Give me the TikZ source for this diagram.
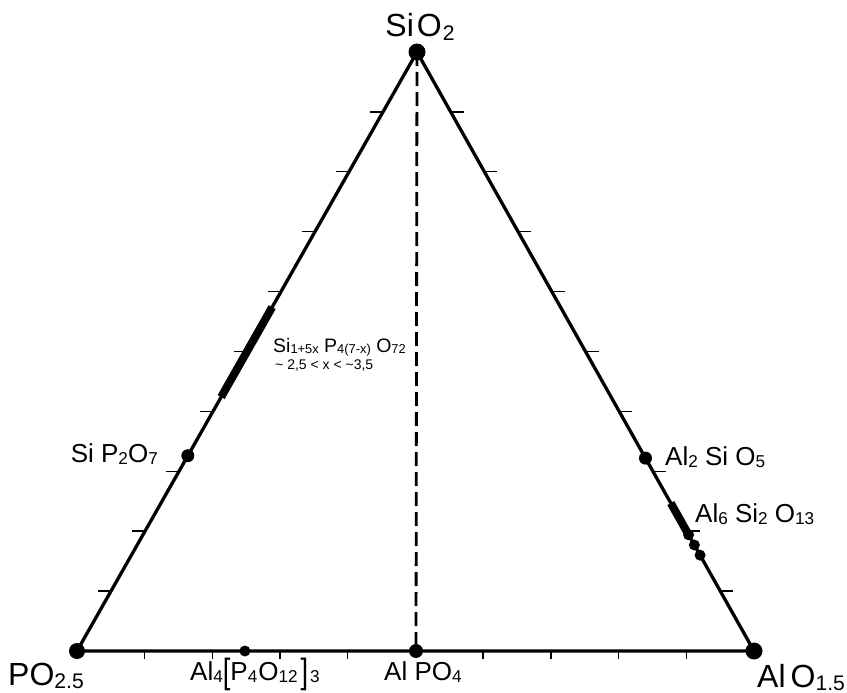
\documentclass[tikz,border=0pt]{standalone}
\usepackage{fontspec}
\setmainfont{Liberation Sans}
\usetikzlibrary{calc}
\newcommand\sbs[1]{\raisebox{-0.1em}{\scalebox{0.66}{#1}}}
\newcommand\bigbr[1]{\raisebox{-3.5pt}{\scalebox{1.05}[1.35]{#1}}}
\begin{document}
\begin{tikzpicture}[x=1pt,y=-1pt,
  edge/.style={line width=3.3pt,line join=round},
  dashline/.style={line width=2.8pt,dash pattern=on 14pt off 6pt},
  tickmark/.style={line width=1.4pt},
  bar/.style={line width=8pt},
  big/.style={font=\fontsize{32}{36}\selectfont,inner sep=0pt},
  mid/.style={font=\fontsize{26}{30}\selectfont,inner sep=0pt},
  sml/.style={font=\fontsize{19.5}{24}\selectfont,inner sep=0pt},
  tny/.style={font=\fontsize{14}{16}\selectfont,inner sep=0pt}]
\useasboundingbox (0,0) rectangle (847,693);
\coordinate (S) at (417,52);
\coordinate (P) at (77,651);
\coordinate (A) at (754,651);
\coordinate (D) at (416,651);
% edges
\draw[edge] (S) -- (P) -- (A) -- cycle;
\draw[dashline] (S) -- (D);
% ticks
\foreach \k in {1,...,9} {
  \draw[tickmark] ($(S)!\k/10!(P)$) -- ++(-13,0);
  \draw[tickmark] ($(S)!\k/10!(A)$) -- ++(13,0);
}
\foreach \k in {1,2,3,4,6,7,8,9}
  \draw[tickmark] ($(P)!\k/10!(A)$) -- ++(0,8);
% solid-solution ranges
\coordinate (x1) at ($(S)!0.426!(P)$);
\coordinate (x2) at ($(S)!0.576!(P)$);
\draw[bar] (x1) -- (x2);
\coordinate (m1) at ($(S)!0.753!(A)$);
\coordinate (m2) at ($(S)!0.803!(A)$);
\draw[bar] (m1) -- (m2);
% compounds
\coordinate (sp) at ($(S)!0.674!(P)$);
\coordinate (as) at ($(S)!0.678!(A)$);
\coordinate (a4) at ($(P)!0.248!(A)$);
\coordinate (d1) at ($(S)!0.806!(A)$);
\coordinate (d2) at ($(S)!0.823!(A)$);
\coordinate (d3) at ($(S)!0.840!(A)$);
\fill (S) circle (8.5pt);
\fill (P) circle (8pt);
\fill (A) circle (8.5pt);
\fill (D) circle (7pt);
\fill (a4) circle (5.5pt);
\fill (sp) circle (6.5pt);
\fill (as) circle (6.5pt);
\fill (d1) circle (5.5pt);
\fill (d2) circle (5.5pt);
\fill (d3) circle (5.5pt);
% labels
\node[big,anchor=base] (lS) at (420,37) {Si\kern3pt O\kern1pt\sbs{2}};
\node[big,anchor=base west] (lP) at (8,685) {PO\sbs{2.5}};
\node[big,anchor=base west] (lA) at (757,687) {Al\kern5pt O\sbs{1.5}};
\node[mid,anchor=base west] (l4) at (190,680) {Al\sbs{4}\bigbr{[}P\sbs{4}\kern1pt O\sbs{12}\kern3pt\bigbr{]}\kern2pt\sbs{3}};
\node[mid,anchor=base west] (lAP) at (384,680) {Al PO\sbs{4}};
\node[mid,anchor=base east] (lSP) at (158,462) {Si P\sbs{2}O\sbs{7}};
\node[mid,anchor=base west] (lAS) at (665,465) {Al\sbs{2} Si O\sbs{5}};
\node[mid,anchor=base west] (lM) at (695,522) {Al\sbs{6} Si\sbs{2} O\sbs{13}};
\node[sml,anchor=base west] (lX) at (273,352) {Si\sbs{1+5x} P\sbs{4(7-x)} O\sbs{72}};
\node[tny,anchor=base west] (lX2) at (275,369) {\textasciitilde\ 2,5 < x < \textasciitilde 3,5};
\end{tikzpicture}
\end{document}
